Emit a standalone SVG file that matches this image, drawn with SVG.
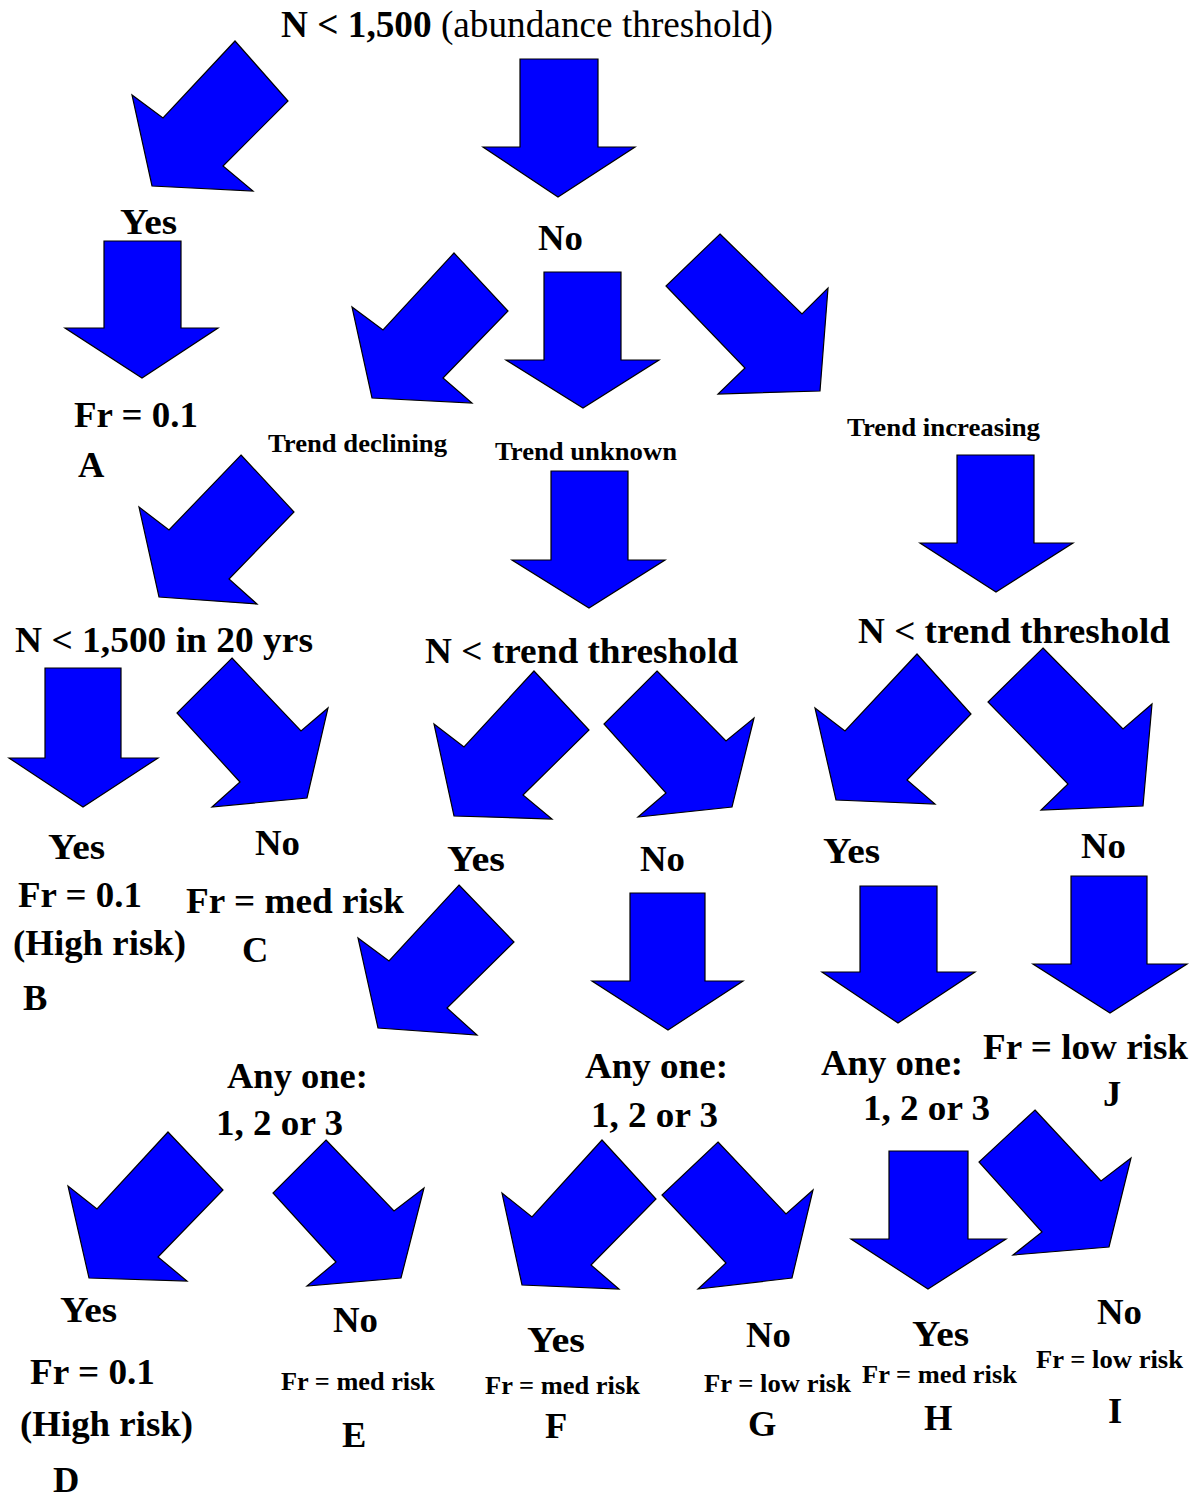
<svg xmlns="http://www.w3.org/2000/svg" width="1201" height="1499" viewBox="0 0 1201 1499">
<style>
.a{fill:#0000ff;stroke:#000;stroke-width:1.2;stroke-linejoin:miter}
text{font-family:"Liberation Serif","Times New Roman",serif;font-weight:bold;fill:#000}
.L{font-size:36.5px}
.S{font-size:26px}
.T{font-size:37px}
.reg{font-weight:normal}
</style>
<rect width="1201" height="1499" fill="#fff"/>
<g id="connectors">
<polygon class="a" points="235,41 288,101 223,166 253,191 152,186 132,95 163,118"/>
<polygon class="a" points="520,59 598,59 598,147 635,147 558,197 483,147 520,147"/>
<polygon class="a" points="104,241 181,241 181,328 218,328 142,378 65,328 104,328"/>
<polygon class="a" points="454,253 508,311 443,378 472,403 372,398 352,307 383,330"/>
<polygon class="a" points="544,272 621,272 621,360 659,360 583,408 506,360 544,360"/>
<polygon class="a" points="720,234 802,314 828,288 820,391 718,394 745,368 666,286"/>
<polygon class="a" points="241,455 294,512 229,579 257,604 159,597 139,507 169,530"/>
<polygon class="a" points="551,471 628,471 628,560 665,560 589,608 512,560 551,560"/>
<polygon class="a" points="957,455 1034,455 1034,543 1073,543 996,592 920,543 957,543"/>
<polygon class="a" points="45,668 121,668 121,758 158,758 83,807 9,758 45,758"/>
<polygon class="a" points="232,658 301,731 328,708 307,798 212,807 240,782 177,713"/>
<polygon class="a" points="534,671 589,730 523,795 552,819 454,816 434,724 464,747"/>
<polygon class="a" points="657,671 726,741 754,718 732,807 638,817 666,793 604,724"/>
<polygon class="a" points="917,654 971,714 907,780 935,804 836,800 815,708 845,731"/>
<polygon class="a" points="1043,648 1123,729 1152,704 1143,806 1041,810 1068,784 988,702"/>
<polygon class="a" points="459,885 514,942 447,1008 477,1035 378,1028 358,938 389,961"/>
<polygon class="a" points="630,893 705,893 705,981 743,981 668,1030 592,981 630,981"/>
<polygon class="a" points="860,886 937,886 937,972 975,972 898,1023 822,972 860,972"/>
<polygon class="a" points="1071,876 1147,876 1147,964 1187,964 1110,1013 1033,964 1071,964"/>
<polygon class="a" points="168,1132 223,1190 158,1257 187,1281 89,1278 68,1186 97,1209"/>
<polygon class="a" points="326,1140 394,1211 424,1188 401,1278 307,1286 336,1262 273,1193"/>
<polygon class="a" points="602,1140 656,1199 591,1265 619,1289 522,1285 502,1193 532,1217"/>
<polygon class="a" points="718,1142 786,1214 813,1190 792,1278 698,1289 726,1263 662,1195"/>
<polygon class="a" points="889,1151 968,1151 968,1239 1006,1239 928,1289 851,1239 889,1239"/>
<polygon class="a" points="1035,1110 1101,1181 1131,1158 1109,1247 1013,1255 1042,1232 979,1162"/>
</g>
<g id="n-title"><text class="T" x="281" y="37" textLength="492" lengthAdjust="spacingAndGlyphs">N &lt; 1,500 <tspan class="reg">(abundance threshold)</tspan></text></g>
<g id="n-yes1"><text class="L" x="120" y="234" textLength="57" lengthAdjust="spacingAndGlyphs">Yes</text></g>
<g id="n-no1"><text class="L" x="538" y="250" textLength="45" lengthAdjust="spacingAndGlyphs">No</text></g>
<g id="n-A"><text class="L" x="74" y="427" textLength="124" lengthAdjust="spacingAndGlyphs">Fr = 0.1</text><text class="L" x="78" y="477">A</text></g>
<g id="n-declining"><text class="S" x="268" y="452" textLength="179" lengthAdjust="spacingAndGlyphs">Trend declining</text></g>
<g id="n-unknown"><text class="S" x="495" y="460" textLength="182" lengthAdjust="spacingAndGlyphs">Trend unknown</text></g>
<g id="n-increasing"><text class="S" x="847" y="436" textLength="193" lengthAdjust="spacingAndGlyphs">Trend increasing</text></g>
<g id="n-20yrs"><text class="L" x="15" y="652" textLength="298" lengthAdjust="spacingAndGlyphs">N &lt; 1,500 in 20 yrs</text></g>
<g id="n-thr1"><text class="L" x="425" y="663" textLength="313" lengthAdjust="spacingAndGlyphs">N &lt; trend threshold</text></g>
<g id="n-thr2"><text class="L" x="858" y="643" textLength="312" lengthAdjust="spacingAndGlyphs">N &lt; trend threshold</text></g>
<g id="n-B"><text class="L" x="48" y="859" textLength="57" lengthAdjust="spacingAndGlyphs">Yes</text><text class="L" x="18" y="907" textLength="124" lengthAdjust="spacingAndGlyphs">Fr = 0.1</text><text class="L" x="13" y="955" textLength="173" lengthAdjust="spacingAndGlyphs">(High risk)</text><text class="L" x="23" y="1010">B</text></g>
<g id="n-C"><text class="L" x="255" y="855" textLength="45" lengthAdjust="spacingAndGlyphs">No</text><text class="L" x="186" y="913" textLength="218" lengthAdjust="spacingAndGlyphs">Fr = med risk</text><text class="L" x="242" y="962">C</text></g>
<g id="n-yes2"><text class="L" x="447" y="871" textLength="58" lengthAdjust="spacingAndGlyphs">Yes</text></g>
<g id="n-no2"><text class="L" x="640" y="871" textLength="45" lengthAdjust="spacingAndGlyphs">No</text></g>
<g id="n-yes3"><text class="L" x="823" y="863" textLength="57" lengthAdjust="spacingAndGlyphs">Yes</text></g>
<g id="n-J"><text class="L" x="1081" y="858" textLength="45" lengthAdjust="spacingAndGlyphs">No</text><text class="L" x="983" y="1059" textLength="205" lengthAdjust="spacingAndGlyphs">Fr = low risk</text><text class="L" x="1103" y="1106">J</text></g>
<g id="n-any1"><text class="L" x="227" y="1088" textLength="141" lengthAdjust="spacingAndGlyphs">Any one:</text><text class="L" x="216" y="1135" textLength="127" lengthAdjust="spacingAndGlyphs">1, 2 or 3</text></g>
<g id="n-any2"><text class="L" x="585" y="1078" textLength="143" lengthAdjust="spacingAndGlyphs">Any one:</text><text class="L" x="591" y="1127" textLength="127" lengthAdjust="spacingAndGlyphs">1, 2 or 3</text></g>
<g id="n-any3"><text class="L" x="821" y="1075" textLength="142" lengthAdjust="spacingAndGlyphs">Any one:</text><text class="L" x="863" y="1120" textLength="127" lengthAdjust="spacingAndGlyphs">1, 2 or 3</text></g>
<g id="n-D"><text class="L" x="60" y="1322" textLength="57" lengthAdjust="spacingAndGlyphs">Yes</text><text class="L" x="30" y="1384" textLength="125" lengthAdjust="spacingAndGlyphs">Fr = 0.1</text><text class="L" x="20" y="1436" textLength="173" lengthAdjust="spacingAndGlyphs">(High risk)</text><text class="L" x="53" y="1492">D</text></g>
<g id="n-E"><text class="L" x="333" y="1332" textLength="45" lengthAdjust="spacingAndGlyphs">No</text><text class="S" x="281" y="1390" textLength="154" lengthAdjust="spacingAndGlyphs">Fr = med risk</text><text class="L" x="342" y="1447">E</text></g>
<g id="n-F"><text class="L" x="527" y="1352" textLength="58" lengthAdjust="spacingAndGlyphs">Yes</text><text class="S" x="485" y="1394" textLength="155" lengthAdjust="spacingAndGlyphs">Fr = med risk</text><text class="L" x="545" y="1438">F</text></g>
<g id="n-G"><text class="L" x="746" y="1347" textLength="45" lengthAdjust="spacingAndGlyphs">No</text><text class="S" x="704" y="1392" textLength="147" lengthAdjust="spacingAndGlyphs">Fr = low risk</text><text class="L" x="748" y="1436">G</text></g>
<g id="n-H"><text class="L" x="912" y="1346" textLength="57" lengthAdjust="spacingAndGlyphs">Yes</text><text class="S" x="862" y="1383" textLength="155" lengthAdjust="spacingAndGlyphs">Fr = med risk</text><text class="L" x="924" y="1430">H</text></g>
<g id="n-I"><text class="L" x="1097" y="1324" textLength="45" lengthAdjust="spacingAndGlyphs">No</text><text class="S" x="1036" y="1368" textLength="147" lengthAdjust="spacingAndGlyphs">Fr = low risk</text><text class="L" x="1108" y="1423">I</text></g>
</svg>
